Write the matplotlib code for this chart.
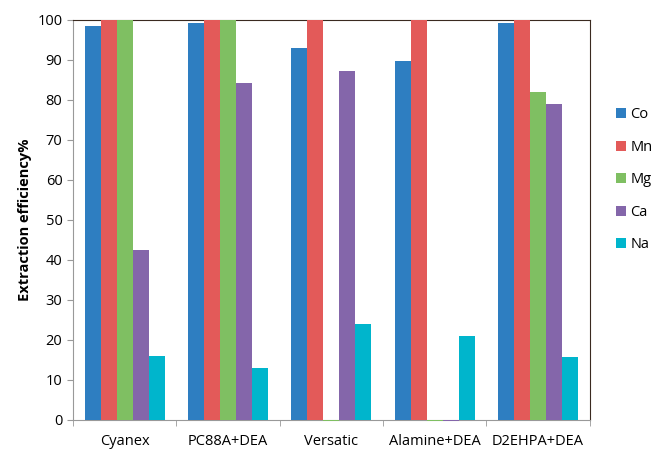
import numpy as np
import matplotlib
matplotlib.use('Agg')
import matplotlib.pyplot as plt

plt.rcParams['font.family'] = ['Open Sans', 'DejaVu Sans']

categories = ['Cyanex', 'PC88A+DEA', 'Versatic', 'Alamine+DEA', 'D2EHPA+DEA']
metals = ['Co', 'Mn', 'Mg', 'Ca', 'Na']
co = [98.6, 99.3, 92.9, 89.7, 99.2]
mn = [100, 100, 100, 100, 100]
mg = [100, 100, -0.3, -0.2, 82.1]
ca = [42.5, 84.3, 87.2, -0.3, 78.9]
na = [16.0, 13.0, 24.0, 21.0, 15.8]
colors = ['#2E7EC1', '#E35A59', '#7FBF62', '#8466AA', '#00B5CC']

fig = plt.figure(figsize=(6.51, 4.5), dpi=100)
ax = fig.add_axes([0.112, 0.0667, 0.794, 0.889])

x = np.arange(len(categories))
w = 0.155
for i, (name, vals) in enumerate(zip(metals, [co, mn, mg, ca, na])):
    ax.bar(x + (i - 2) * w, vals, w, color=colors[i], label=name, clip_on=False, zorder=3)

ax.set_xlim(-0.5, len(categories) - 0.5)
ax.set_ylim(0, 100)
ax.set_yticks(range(0, 101, 10))
ax.set_xticks(x)
ax.set_xticklabels(categories, fontsize=10.5)
ax.set_xticks(np.arange(-0.5, len(categories), 1), minor=True)
ax.tick_params(axis='x', which='major', length=0, pad=10)
ax.tick_params(axis='x', which='minor', length=4, color='#999999', direction='out')
ax.tick_params(axis='y', length=4, color='#999999', labelsize=10.5)
ax.set_ylabel('Extraction efficiency%', fontsize=10.5, fontweight='bold')

ax.spines['left'].set_color('#999999')
ax.spines['bottom'].set_color('#999999')
ax.spines['top'].set_color('#3a2a20')
ax.spines['right'].set_color('#3a2a20')

ax.legend(loc='center left', bbox_to_anchor=(1.05, 0.6), frameon=False,
          borderaxespad=0, borderpad=0,
          handlelength=0.7, handleheight=0.7, labelspacing=1.2, fontsize=10.5,
          handletextpad=0.3)

fig.savefig('out.png', dpi=100)
